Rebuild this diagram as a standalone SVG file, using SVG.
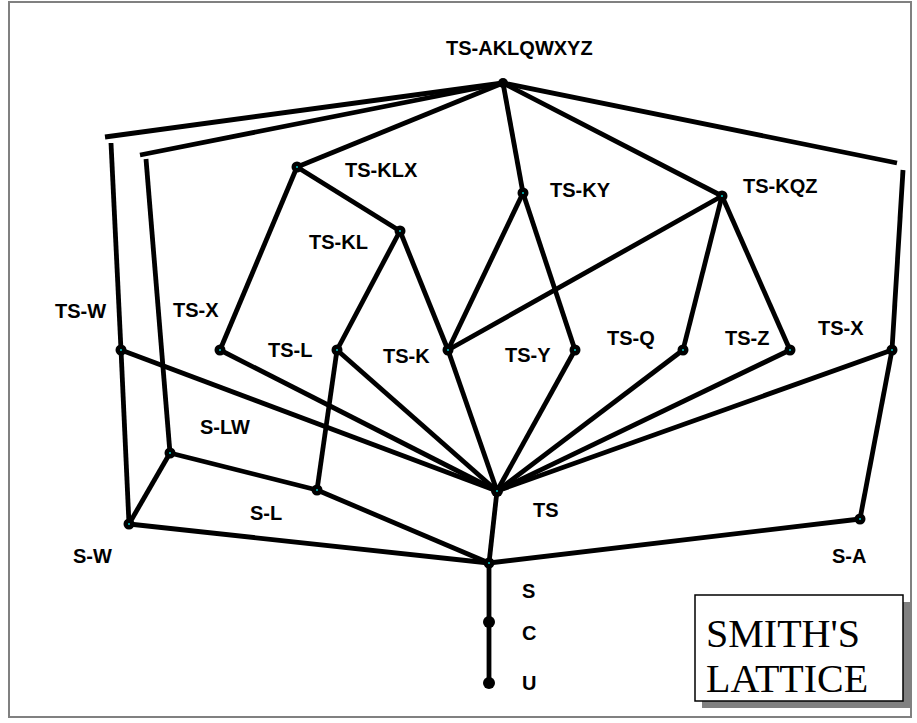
<svg xmlns="http://www.w3.org/2000/svg" width="917" height="723" viewBox="0 0 917 723">
<style>
.e{stroke:#000;stroke-width:4.8;fill:none;stroke-linecap:butt;stroke-linejoin:round}
.n{fill:#000}
.c{fill:#00cccc}
.l{font-family:"Liberation Sans",Arial,sans-serif;font-weight:bold;font-size:20px;fill:#000}
.t{font-family:"Liberation Serif","Times New Roman",serif;font-size:40px;fill:#000}
</style>
<rect x="0" y="0" width="917" height="723" fill="#fff"/>
<rect x="9" y="2" width="902" height="715" fill="none" stroke="#808080" stroke-width="2"/>
<g id="connectors">
<line class="e" x1="503" y1="83" x2="105" y2="137"/>
<line class="e" x1="503" y1="83" x2="140" y2="155"/>
<line class="e" x1="503" y1="83" x2="297" y2="167"/>
<line class="e" x1="503" y1="83" x2="523" y2="193"/>
<line class="e" x1="503" y1="83" x2="722" y2="196"/>
<line class="e" x1="503" y1="83" x2="897" y2="163"/>
<line class="e" x1="111" y1="143" x2="121" y2="350"/>
<line class="e" x1="146" y1="159" x2="170" y2="453"/>
<line class="e" x1="903" y1="170" x2="892" y2="350"/>
<line class="e" x1="297" y1="167" x2="220" y2="350"/>
<line class="e" x1="297" y1="167" x2="400" y2="231"/>
<line class="e" x1="400" y1="231" x2="337" y2="350"/>
<line class="e" x1="400" y1="231" x2="448" y2="350"/>
<line class="e" x1="523" y1="193" x2="448" y2="350"/>
<line class="e" x1="523" y1="193" x2="575" y2="350"/>
<line class="e" x1="722" y1="196" x2="448" y2="350"/>
<line class="e" x1="722" y1="196" x2="683" y2="350"/>
<line class="e" x1="722" y1="196" x2="790" y2="350"/>
<line class="e" x1="121" y1="350" x2="129" y2="524"/>
<line class="e" x1="121" y1="350" x2="497" y2="491"/>
<line class="e" x1="220" y1="350" x2="497" y2="491"/>
<line class="e" x1="337" y1="350" x2="497" y2="491"/>
<line class="e" x1="448" y1="350" x2="497" y2="491"/>
<line class="e" x1="575" y1="350" x2="497" y2="491"/>
<line class="e" x1="683" y1="350" x2="497" y2="491"/>
<line class="e" x1="790" y1="350" x2="497" y2="491"/>
<line class="e" x1="892" y1="350" x2="497" y2="491"/>
<line class="e" x1="892" y1="350" x2="860" y2="519"/>
<line class="e" x1="337" y1="350" x2="317" y2="490"/>
<line class="e" x1="170" y1="453" x2="129" y2="524"/>
<line class="e" x1="170" y1="453" x2="317" y2="490"/>
<line class="e" x1="317" y1="490" x2="489" y2="563"/>
<line class="e" x1="129" y1="524" x2="489" y2="563"/>
<line class="e" x1="497" y1="491" x2="489" y2="563"/>
<line class="e" x1="860" y1="519" x2="489" y2="563"/>
<line class="e" x1="489" y1="563" x2="489" y2="683"/>
</g>
<g id="n-top"><circle class="n" cx="503" cy="83" r="5"/><text class="l" x="446" y="55" font-size="21">TS-AKLQWXYZ</text></g>
<g id="n-tsklx"><circle class="n" cx="297" cy="167" r="5.5"/><circle class="c" cx="297" cy="167" r="1"/><text class="l" x="345" y="177">TS-KLX</text></g>
<g id="n-tsky"><circle class="n" cx="523" cy="193" r="5.5"/><circle class="c" cx="523" cy="193" r="1"/><text class="l" x="550" y="197">TS-KY</text></g>
<g id="n-tskqz"><circle class="n" cx="722" cy="196" r="5.5"/><circle class="c" cx="722" cy="196" r="1"/><text class="l" x="743" y="193">TS-KQZ</text></g>
<g id="n-tskl"><circle class="n" cx="400" cy="231" r="5.5"/><circle class="c" cx="400" cy="231" r="1"/><text class="l" x="309" y="249">TS-KL</text></g>
<g id="n-tsw"><circle class="n" cx="121" cy="350" r="5.5"/><circle class="c" cx="121" cy="350" r="1"/><text class="l" x="55" y="318">TS-W</text></g>
<g id="n-tsx1"><circle class="n" cx="220" cy="350" r="5.5"/><circle class="c" cx="220" cy="350" r="1"/><text class="l" x="173" y="317">TS-X</text></g>
<g id="n-tsl"><circle class="n" cx="337" cy="350" r="5.5"/><circle class="c" cx="337" cy="350" r="1"/><text class="l" x="268" y="357">TS-L</text></g>
<g id="n-tsk"><circle class="n" cx="448" cy="350" r="5.5"/><circle class="c" cx="448" cy="350" r="1"/><text class="l" x="383" y="363">TS-K</text></g>
<g id="n-tsy"><circle class="n" cx="575" cy="350" r="5.5"/><circle class="c" cx="575" cy="350" r="1"/><text class="l" x="505" y="362">TS-Y</text></g>
<g id="n-tsq"><circle class="n" cx="683" cy="350" r="5.5"/><circle class="c" cx="683" cy="350" r="1"/><text class="l" x="607" y="345">TS-Q</text></g>
<g id="n-tsz"><circle class="n" cx="790" cy="350" r="5.5"/><circle class="c" cx="790" cy="350" r="1"/><text class="l" x="725" y="345">TS-Z</text></g>
<g id="n-tsx2"><circle class="n" cx="892" cy="350" r="5.5"/><circle class="c" cx="892" cy="350" r="1"/><text class="l" x="818" y="335">TS-X</text></g>
<g id="n-slw"><circle class="n" cx="170" cy="453" r="5.5"/><circle class="c" cx="170" cy="453" r="1"/><text class="l" x="200" y="434">S-LW</text></g>
<g id="n-sl"><circle class="n" cx="317" cy="490" r="5.5"/><circle class="c" cx="317" cy="490" r="1"/><text class="l" x="250" y="520">S-L</text></g>
<g id="n-ts"><circle class="n" cx="497" cy="491" r="6"/><circle class="c" cx="497" cy="491" r="1"/><text class="l" x="533" y="517">TS</text></g>
<g id="n-sw"><circle class="n" cx="129" cy="524" r="5.5"/><circle class="c" cx="129" cy="524" r="1"/><text class="l" x="73" y="563">S-W</text></g>
<g id="n-sa"><circle class="n" cx="860" cy="519" r="5.5"/><circle class="c" cx="860" cy="519" r="1"/><text class="l" x="832" y="563">S-A</text></g>
<g id="n-s"><circle class="n" cx="489" cy="563" r="5.5"/><circle class="c" cx="489" cy="563" r="1"/><text class="l" x="522" y="598">S</text></g>
<g id="n-c"><circle class="n" cx="489" cy="622" r="6"/><text class="l" x="522" y="640">C</text></g>
<g id="n-u"><circle class="n" cx="489" cy="683" r="6"/><text class="l" x="522" y="690">U</text></g>
<g id="title">
<rect x="702" y="602" width="208" height="106" fill="#808080"/>
<rect x="695" y="595" width="208" height="106" fill="#fff" stroke="#000" stroke-width="1.5"/>
<text class="t" x="706" y="647">SMITH'S</text>
<text class="t" x="706" y="692">LATTICE</text>
</g>
</svg>
